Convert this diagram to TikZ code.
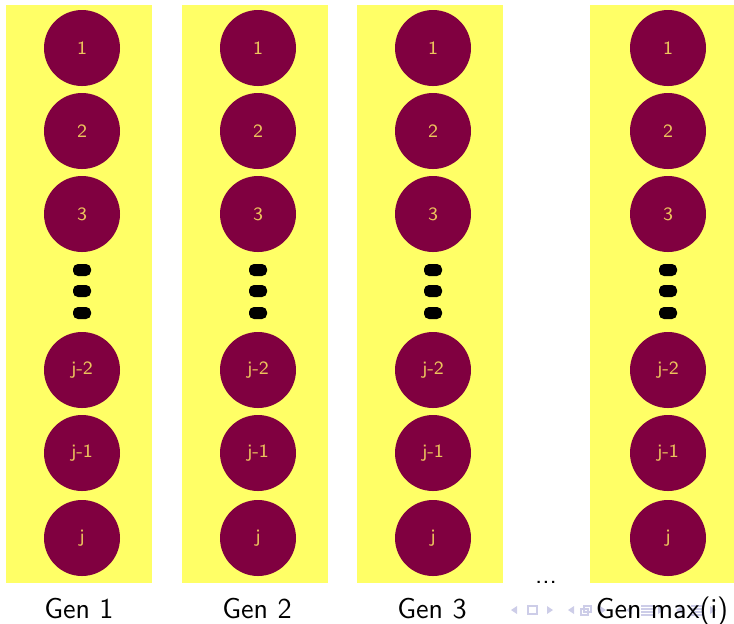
\documentclass[tikz,border=0pt]{standalone}
\usepackage{tikz}
\usetikzlibrary{shapes.geometric, arrows}

\definecolor{genyellow}{RGB}{255,255,102}
\definecolor{genmaroon}{RGB}{128,0,64}
\definecolor{gengold}{RGB}{236,196,92}
\definecolor{navgray}{RGB}{205,205,232}

\tikzset{
    genbar/.style={fill=genyellow},
    indiv/.style={circle, fill=genmaroon, minimum size=30.4pt, inner sep=0pt, text=gengold, font=\sffamily\fontsize{7.5}{8}\selectfont},
    vdot/.style={rectangle, rounded corners=2pt, fill=black, minimum width=7.2pt, minimum height=4.8pt, inner sep=0pt},
    genlabel/.style={font=\sffamily\fontsize{11.5}{13}\selectfont, anchor=base}
}

\begin{document}
\begin{tikzpicture}[x=0.4pt, y=-0.4pt]
    \useasboundingbox (0,0) rectangle (734,623);
    % navigation symbols
    \begin{scope}[navgray, line width=0.5pt]
        \fill (511,610) -- (517,606) -- (517,614) -- cycle;
        \draw (528,606) rectangle (537,614);
        \fill (553,610) -- (547,606) -- (547,614) -- cycle;
        \fill (568,610) -- (574,606) -- (574,614) -- cycle;
        \draw (581,609) rectangle (588,615) (584,606) rectangle (591,612);
        \fill (606,610) -- (600,606) -- (600,614) -- cycle;
        \fill (626,610) -- (632,606) -- (632,614) -- cycle;
        \draw (641,606) -- (653,606) (641,609) -- (653,609) (641,612) -- (653,612) (641,615) -- (653,615);
        \fill (664,610) -- (658,606) -- (658,614) -- cycle;
        \fill (676,610) -- (682,606) -- (682,614) -- cycle;
        \draw (691,606) -- (703,606) (691,609) -- (703,609) (691,612) -- (703,612) (691,615) -- (703,615);
        \fill (716,610) -- (710,606) -- (710,614) -- cycle;
    \end{scope}
    % yellow bars, one per generation
    \foreach \gx/\cx/\gname/\lx [count=\g] in {6/82/Gen 1/79, 182/258/Gen 2/257, 357/433/Gen 3/432, 590/668/Gen max(i)/662} {
        \fill[genbar] (\gx,5) rectangle ++(146,578);
        \foreach \cy/\lab [count=\k] in {48/1, 131/2, 214/3, 370/j-2, 453/j-1, 538/j}
            \node[indiv] (c\g-\k) at (\cx,\cy) {\lab};
        \foreach \dy [count=\k] in {270, 291, 313}
            \node[vdot] (d\g-\k) at (\cx,\dy) {};
        \node[genlabel] (gen\g) at (\lx,618) {\gname};
    }
    \node[font=\sffamily\fontsize{10.5}{12}\selectfont, anchor=base] (more) at (546,583) {...};
\end{tikzpicture}
\end{document}
